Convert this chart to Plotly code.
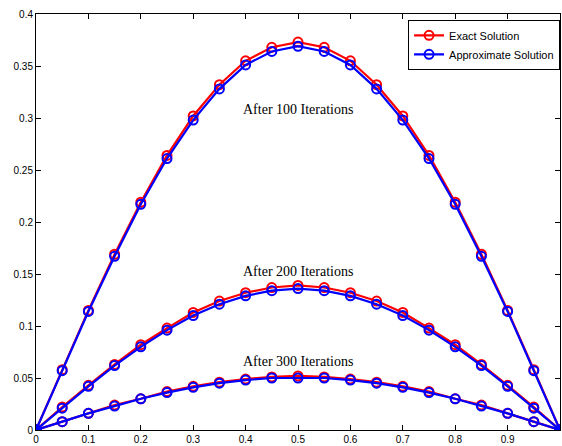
import plotly.graph_objects as go

x = [round(i * 0.05, 2) for i in range(21)]

exact_100_half = [0, 0.058, 0.115, 0.169, 0.219, 0.264, 0.302, 0.332, 0.355, 0.368, 0.373]
approx_100_half = [0, 0.057, 0.114, 0.167, 0.217, 0.261, 0.298, 0.328, 0.351, 0.364, 0.369]
exact_200_half = [0, 0.022, 0.043, 0.063, 0.082, 0.098, 0.113, 0.124, 0.132, 0.137, 0.139]
approx_200_half = [0, 0.021, 0.042, 0.062, 0.080, 0.096, 0.110, 0.121, 0.129, 0.134, 0.136]
exact_300_half = [0, 0.008, 0.016, 0.024, 0.030, 0.037, 0.042, 0.046, 0.049, 0.051, 0.052]
approx_300_half = [0, 0.008, 0.016, 0.023, 0.030, 0.036, 0.041, 0.045, 0.048, 0.050, 0.050]


def full(h):
    return h + h[-2::-1]


exact = [full(exact_100_half), full(exact_200_half), full(exact_300_half)]
approx = [full(approx_100_half), full(approx_200_half), full(approx_300_half)]

labels = ["After 100 Iterations", "After 200 Iterations", "After 300 Iterations"]
label_x = [0.5, 0.5, 0.5]
label_y = [0.308, 0.152, 0.066]

x_ticks = [0, 0.1, 0.2, 0.3, 0.4, 0.5, 0.6, 0.7, 0.8, 0.9]
x_ticktext = ["0", "0.1", "0.2", "0.3", "0.4", "0.5", "0.6", "0.7", "0.8", "0.9"]
y_ticks = [0, 0.05, 0.1, 0.15, 0.2, 0.25, 0.3, 0.35, 0.4]
y_ticktext = ["0", "0.05", "0.1", "0.15", "0.2", "0.25", "0.3", "0.35", "0.4"]

RED = "#ff0000"
BLUE = "#0000ff"

fig = go.Figure()
for i in range(3):
    fig.add_trace(go.Scatter(
        x=x, y=exact[i], mode="lines+markers",
        line=dict(color=RED, width=2.2),
        marker=dict(symbol="circle-open", size=9, color=RED, line=dict(width=2, color=RED)),
        name="Exact Solution", showlegend=(i == 0), legendrank=1,
    ))
for i in range(3):
    fig.add_trace(go.Scatter(
        x=x, y=approx[i], mode="lines+markers",
        line=dict(color=BLUE, width=2.2),
        marker=dict(symbol="circle-open", size=9, color=BLUE, line=dict(width=2, color=BLUE)),
        name="Approximate Solution", showlegend=(i == 0), legendrank=2,
    ))

for t, lx, ly in zip(labels, label_x, label_y):
    fig.add_annotation(x=lx, y=ly, text=t, showarrow=False,
                       font=dict(family="Liberation Serif, Times New Roman, serif", size=14, color="black"))

axis_common = dict(
    showline=True, linecolor="black", linewidth=1, mirror="ticks",
    ticks="inside", ticklen=5, tickcolor="black", showgrid=False, zeroline=False,
    tickfont=dict(family="Liberation Sans, Arial, sans-serif", size=10, color="black"),
)

fig.update_layout(
    width=562, height=446,
    margin=dict(l=36, r=2, t=14, b=16),
    paper_bgcolor="white", plot_bgcolor="white",
    xaxis=dict(range=[0, 1], tickvals=x_ticks, ticktext=x_ticktext, **axis_common),
    yaxis=dict(range=[0, 0.4], tickvals=y_ticks, ticktext=y_ticktext, **axis_common),
    legend=dict(x=0.71, y=0.986, xanchor="left", yanchor="top",
                bgcolor="white", bordercolor="black", borderwidth=1,
                font=dict(family="Liberation Sans, Arial, sans-serif", size=11, color="black"),
                itemwidth=30, tracegroupgap=0),
    showlegend=True,
)

fig.write_html("out.html", config={"displayModeBar": False},
               post_script="document.body.style.margin='0';document.body.style.padding='0';")
